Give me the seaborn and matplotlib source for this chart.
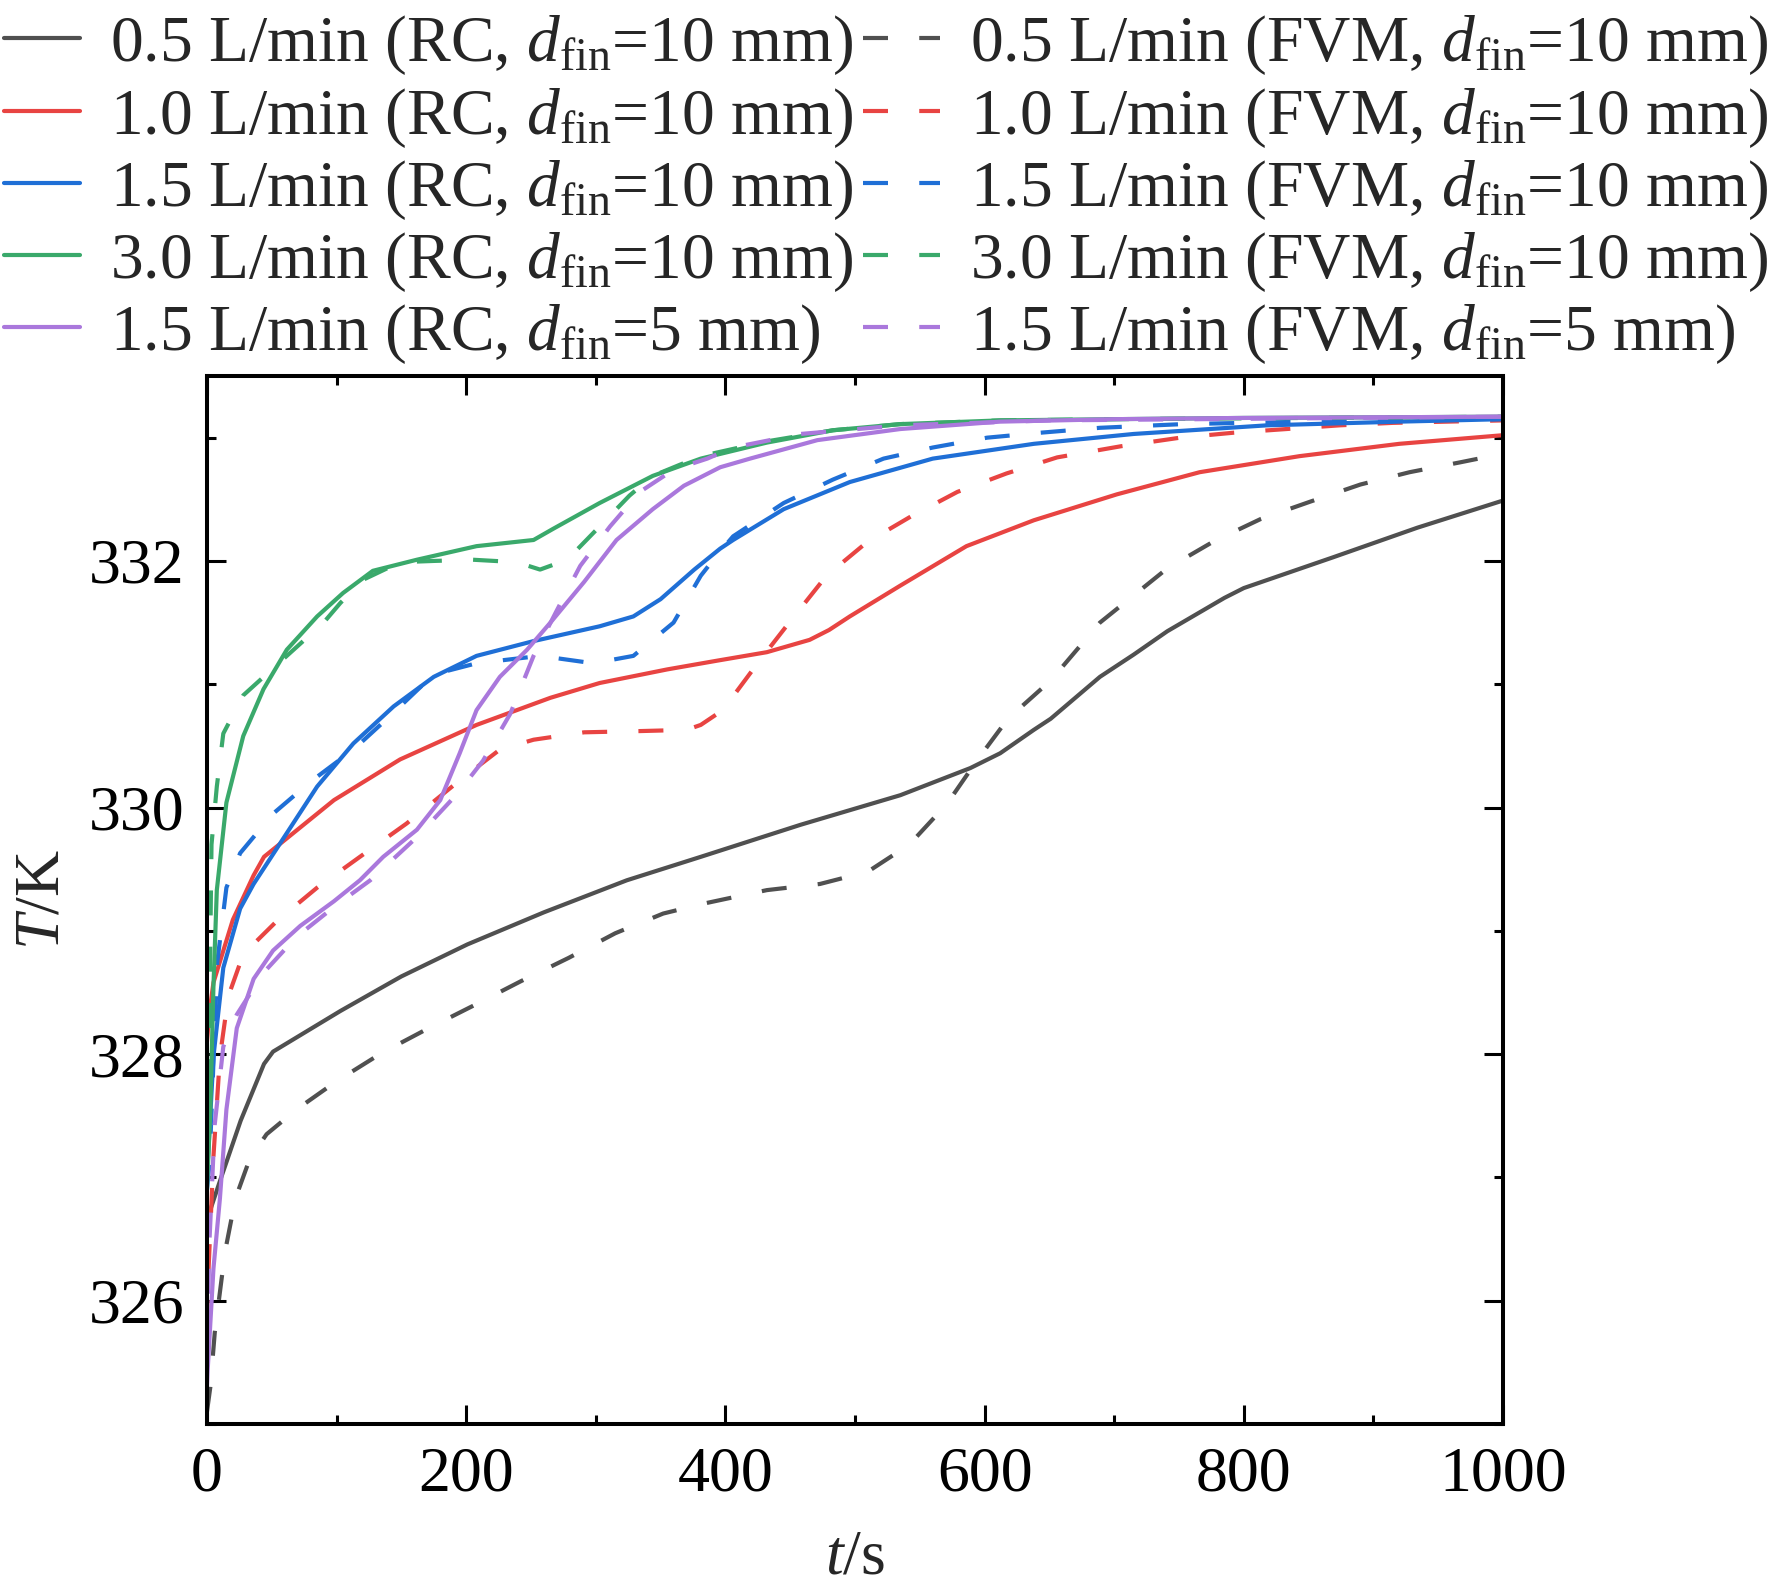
import numpy as np
import pandas as pd
import seaborn as sns
import matplotlib.pyplot as plt
from matplotlib.lines import Line2D
from matplotlib.ticker import MultipleLocator

# Series (t in s, T in K)
cases = ['0.5', '1.0', '1.5', '3.0', '1.5s']

t_05_rc = [0, 3, 10, 26, 44, 51, 103, 150, 201, 260, 324, 381, 458, 535, 589, 612, 638, 651, 689, 715, 741, 785, 800,
           869, 934, 1000]
T_05_rc = [326.6, 326.75, 326.97, 327.46, 327.92, 328.02, 328.35, 328.63, 328.89, 329.15, 329.41, 329.6, 329.86, 330.1,
           330.32, 330.44, 330.63, 330.72, 331.06, 331.24, 331.43, 331.7, 331.78, 332.03, 332.27, 332.49]
t_05_fvm = [0, 2.6, 6, 14, 22, 33, 46, 69, 100, 135, 171, 205, 242, 279, 315, 352, 383, 432, 473, 510, 542, 571, 594, 618,
            651, 689, 741, 777, 813, 851, 890, 928, 967, 1000]
T_05_fvm = [325.1, 325.3, 325.74, 326.4, 326.83, 327.15, 327.35, 327.55, 327.78, 328.01, 328.21, 328.39, 328.59, 328.78,
            328.98, 329.14, 329.22, 329.33, 329.38, 329.48, 329.7, 330.03, 330.38, 330.72, 331.03, 331.5, 331.94, 332.16,
            332.34, 332.48, 332.62, 332.72, 332.8, 332.87]

t_10_rc = [0, 2, 5, 20, 36, 44, 98, 149, 208, 265, 303, 355, 393, 432, 465, 480, 496, 535, 586, 638, 702, 766, 843, 920,
           1000]
T_10_rc = [328.1, 328.35, 328.58, 329.09, 329.45, 329.6, 330.06, 330.39, 330.67, 330.89, 331.01, 331.12, 331.19, 331.26,
           331.36, 331.44, 331.55, 331.8, 332.12, 332.33, 332.54, 332.72, 332.85, 332.95, 333.02]
t_10_fvm = [0, 1, 5, 10, 16.5, 28, 54, 85, 118, 154, 195, 226, 252, 291, 334, 370, 381, 398, 427, 447, 478, 509, 543, 579,
            617, 656, 705, 751, 792, 833, 874, 915, 1000]
T_10_fvm = [325.8, 326.2, 327.17, 327.98, 328.47, 328.81, 329.08, 329.35, 329.6, 329.87, 330.22, 330.47, 330.55, 330.61,
            330.62, 330.63, 330.67, 330.79, 331.2, 331.47, 331.88, 332.15, 332.36, 332.56, 332.71, 332.84, 332.93, 333.0,
            333.04, 333.07, 333.1, 333.12, 333.14]

t_15_rc = [0, 5, 12.6, 25.6, 36, 56.5, 85, 113, 144, 175, 208, 252, 303, 329, 350, 376, 396, 406, 445, 496, 560, 638, 715,
           818, 920, 1000]
T_15_rc = [327.0, 327.98, 328.7, 329.18, 329.38, 329.71, 330.17, 330.52, 330.82, 331.06, 331.23, 331.35, 331.47, 331.55,
           331.69, 331.93, 332.1, 332.17, 332.42, 332.64, 332.83, 332.95, 333.03, 333.1, 333.13, 333.15]
t_15_fvm = [0, 2, 8, 15, 25.6, 51, 80, 113, 141, 175, 208, 257, 298, 329, 360, 381, 393, 406, 445, 483, 522, 560, 602, 643,
            689, 753, 850, 1000]
T_15_fvm = [326.9, 327.12, 328.75, 329.35, 329.63, 329.95, 330.21, 330.47, 330.74, 331.08, 331.17, 331.23, 331.17, 331.23,
            331.5, 331.88, 332.04, 332.2, 332.47, 332.66, 332.83, 332.92, 333.0, 333.04, 333.08, 333.11, 333.13, 333.15]

t_30_rc = [0, 2.6, 5, 7.6, 15, 28, 43.6, 61.6, 85, 105, 128, 162, 208, 252, 267, 303, 344, 381, 432, 483, 535, 612, 700,
           800, 1000]
T_30_rc = [326.9, 327.55, 328.55, 329.33, 330.04, 330.58, 330.96, 331.28, 331.55, 331.74, 331.92, 332.01, 332.12, 332.17,
           332.26, 332.47, 332.69, 332.83, 332.96, 333.06, 333.11, 333.14, 333.15, 333.16, 333.17]
t_30_fvm = [0, 2, 3.5, 7.6, 12.6, 28, 38.5, 61.6, 90, 103, 121, 149, 175, 205, 239, 257, 278, 303, 326, 344, 381, 432, 483,
            535, 612, 700, 1000]
T_30_fvm = [327.3, 328.4, 329.7, 330.17, 330.6, 330.91, 331.01, 331.23, 331.5, 331.66, 331.85, 331.99, 332.0, 332.01,
            331.99, 331.93, 332.01, 332.28, 332.53, 332.69, 332.85, 332.97, 333.06, 333.11, 333.14, 333.15, 333.17]

t_15s_rc = [0, 0.5, 5, 10, 15, 23, 36, 51, 72, 98, 118, 136, 162, 180, 195, 208, 226, 247, 265, 291, 316, 344, 368, 396,
            419, 471, 535, 612, 700, 800, 1000]
T_15s_rc = [325.3, 325.43, 326.26, 326.83, 327.55, 328.21, 328.61, 328.84, 329.04, 329.24, 329.41, 329.6, 329.82, 330.06,
            330.44, 330.79, 331.06, 331.28, 331.5, 331.83, 332.17, 332.42, 332.61, 332.76, 332.83, 332.98, 333.07, 333.13,
            333.15, 333.16, 333.17]
t_15s_fvm = [0, 2, 6, 12.6, 23, 43.6, 69, 100, 126, 162, 193, 213, 234, 252, 270, 288, 311, 334, 360, 386, 406, 458, 535,
             650, 1000]
T_15s_fvm = [325.6, 326.5, 327.43, 328.06, 328.32, 328.66, 328.95, 329.21, 329.41, 329.76, 330.11, 330.38, 330.76, 331.23,
             331.6, 331.96, 332.28, 332.56, 332.74, 332.83, 332.92, 333.03, 333.1, 333.14, 333.17]

labels_rc = [r'0.5 L/min (RC, $d_{\mathrm{fin}}$=10 mm)', r'1.0 L/min (RC, $d_{\mathrm{fin}}$=10 mm)',
             r'1.5 L/min (RC, $d_{\mathrm{fin}}$=10 mm)', r'3.0 L/min (RC, $d_{\mathrm{fin}}$=10 mm)',
             r'1.5 L/min (RC, $d_{\mathrm{fin}}$=5 mm)']
labels_fvm = [r'0.5 L/min (FVM, $d_{\mathrm{fin}}$=10 mm)', r'1.0 L/min (FVM, $d_{\mathrm{fin}}$=10 mm)',
              r'1.5 L/min (FVM, $d_{\mathrm{fin}}$=10 mm)', r'3.0 L/min (FVM, $d_{\mathrm{fin}}$=10 mm)',
              r'1.5 L/min (FVM, $d_{\mathrm{fin}}$=5 mm)']

colors = {'0.5': '#505050', '1.0': '#e84442', '1.5': '#1f6fd6', '3.0': '#3aa96b', '1.5s': '#aa78dc'}

rc_t = [t_05_rc, t_10_rc, t_15_rc, t_30_rc, t_15s_rc]
rc_T = [T_05_rc, T_10_rc, T_15_rc, T_30_rc, T_15s_rc]
fvm_t = [t_05_fvm, t_10_fvm, t_15_fvm, t_30_fvm, t_15s_fvm]
fvm_T = [T_05_fvm, T_10_fvm, T_15_fvm, T_30_fvm, T_15s_fvm]

frames = []
for c, tt, TT in zip(cases, rc_t, rc_T):
    frames.append(pd.DataFrame({'t': tt, 'T': TT, 'case': c, 'method': 'RC'}))
for c, tt, TT in zip(cases, fvm_t, fvm_T):
    frames.append(pd.DataFrame({'t': tt, 'T': TT, 'case': c, 'method': 'FVM'}))
df = pd.concat(frames, ignore_index=True)

sns.set_theme(style='ticks')
plt.rcParams['font.family'] = ['Liberation Serif', 'DejaVu Serif']
plt.rcParams['mathtext.fontset'] = 'custom'
plt.rcParams['mathtext.rm'] = 'Liberation Serif'
plt.rcParams['mathtext.it'] = 'Liberation Serif:italic'
plt.rcParams['font.size'] = 46

lw = 3.0
dash = (6, 7.5)

fig = plt.figure(figsize=(17.72, 15.96), dpi=100)
ax = fig.add_axes([0.1168, 0.1078, 0.7314, 0.6566])

sns.lineplot(data=df, x='t', y='T', hue='case', style='method', palette=colors,
             dashes={'RC': '', 'FVM': dash}, estimator=None, sort=True,
             linewidth=lw, legend=False, ax=ax)

ax.set_xlim(0, 1000)
ax.set_ylim(325, 333.5)
ax.xaxis.set_major_locator(MultipleLocator(200))
ax.xaxis.set_minor_locator(MultipleLocator(100))
ax.yaxis.set_major_locator(MultipleLocator(2))
ax.yaxis.set_minor_locator(MultipleLocator(1))
ax.tick_params(which='both', direction='in', top=True, right=True, colors='black', labelsize=46)
ax.tick_params(which='major', length=14, width=2.2, pad=16)
ax.tick_params(which='minor', length=6.5, width=2.2)
for s in ax.spines.values():
    s.set_linewidth(2.9)
    s.set_color('black')

ax.set_xlabel(r'$t$/s', fontsize=46, labelpad=18)
ax.set_ylabel(r'$T$/K', fontsize=46, labelpad=12)

handles = []
labels = []
for c, lab in zip(cases, labels_rc):
    handles.append(Line2D([], [], color=colors[c], lw=lw))
    labels.append(lab)
for c, lab in zip(cases, labels_fvm):
    handles.append(Line2D([], [], color=colors[c], lw=lw, dashes=dash))
    labels.append(lab)

fig.legend(handles, labels, ncol=2, loc='upper left', bbox_to_anchor=(0.002, 0.991),
           frameon=False, fontsize=47.2, handlelength=1.17, handletextpad=0.46,
           columnspacing=0.14, labelspacing=0.14, borderpad=0, borderaxespad=0)

fig.savefig('out.png', dpi=100)
